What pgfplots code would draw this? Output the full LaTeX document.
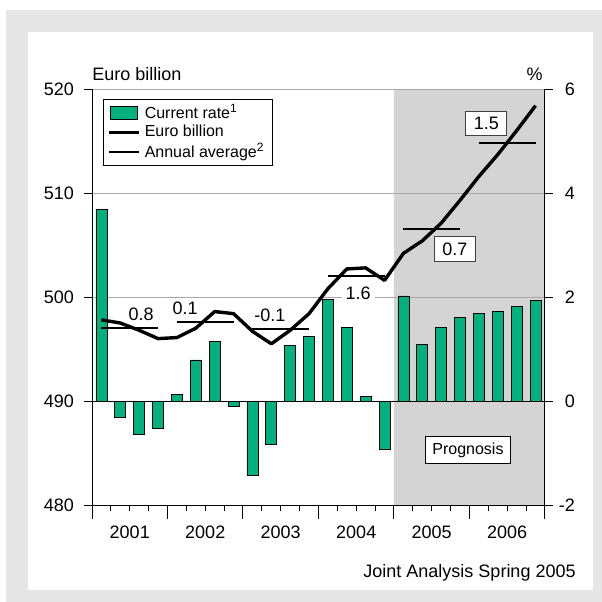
\documentclass[border=0pt]{standalone}
\usepackage{fontspec}
\setmainfont{Liberation Sans}
\usepackage{pgfplots}
\usepackage{pgfplotstable}
\pgfplotsset{compat=1.18}

\definecolor{barGreen}{HTML}{00B07E}
\definecolor{shade}{HTML}{D4D4D4}
\definecolor{frame}{HTML}{E6E6E6}
\definecolor{gridgray}{HTML}{A8A8A8}

% quarterly current rate, % (right axis)
\pgfplotstableread{
q rate
1 3.69
2 -0.31
3 -0.64
4 -0.53
5 0.13
6 0.79
7 1.14
8 -0.10
9 -1.44
10 -0.83
11 1.07
12 1.25
13 1.96
14 1.42
15 0.09
16 -0.93
17 2.02
18 1.08
19 1.41
20 1.61
21 1.69
22 1.73
23 1.81
24 1.93
}\ratetable

% Euro billion (left axis)
\pgfplotstableread{
q euro
1 497.8
2 497.5
3 496.8
4 496.0
5 496.1
6 497.0
7 498.6
8 498.4
9 496.7
10 495.5
11 496.8
12 498.4
13 500.8
14 502.7
15 502.8
16 501.6
17 504.2
18 505.4
19 507.1
20 509.3
21 511.6
22 513.7
23 516.0
24 518.4
}\eurotable

\pgfplotsset{
  chart/.style={
    at={(46pt,48.5pt)}, anchor=south west,
    scale only axis, width=226.5pt, height=208pt,
    xmin=0.5, xmax=24.5,
    tick align=outside,
    tick style={black, line width=0.5pt},
    axis line style={black, line width=0.5pt},
    ticklabel style={font=\fontsize{9}{10}\selectfont},
    /pgf/number format/assume math mode=true,
  },
}
\newcommand{\lab}{\fontsize{9}{10}\selectfont}

\begin{document}
\begin{tikzpicture}
\fill[white] (0,0) rectangle (301pt,301pt);
\fill[frame] (3pt,0) rectangle (301pt,296pt);
\fill[white] (14pt,6pt) rectangle (296.5pt,285pt);

% prognosis shading
\begin{axis}[chart, hide axis, ymin=-2, ymax=6]
\addplot[draw=none, fill=shade] coordinates {(16.5,-2) (16.5,6) (24.5,6) (24.5,-2)} -- cycle;
\end{axis}

% bars, right axis
\begin{axis}[chart,
  ymin=-2, ymax=6, ytick={-2,0,...,6},
  axis y line*=right, axis x line=none,
  major tick length=4pt,
  ymajorgrids, grid style={gridgray, line width=0.5pt},
  yticklabel style={anchor=east, xshift=14.5pt},
]
\draw[black, line width=0.5pt] (axis cs:0.5,0) -- (axis cs:24.5,0);
\addplot[ybar, bar width=0.58, fill=barGreen, draw=black, line width=0.4pt]
  table[x=q, y=rate] {\ratetable};
\end{axis}

% x axis with quarter and year ticks
\begin{axis}[chart,
  ymin=-2, ymax=6,
  axis y line=none, axis x line*=bottom,
  xtick={0.5,4.5,...,24.5},
  xticklabels={2001,2002,2003,2004,2005,2006,{}},
  xticklabel style={xshift=18.875pt},
  minor xtick={0.5,1.5,...,24.5},
  major tick length=7pt, minor tick length=3pt,
]
\addplot[draw=none, forget plot] table[x=q, y=rate] {\ratetable};
\end{axis}

% euro line, left axis
\begin{axis}[chart, clip=false,
  ymin=480, ymax=520, ytick={480,490,...,520},
  axis y line*=left, axis x line=none,
  major tick length=4pt,
  yticklabel style={xshift=-1.5pt},
  legend style={at={(0.024,0.976)}, anchor=north west, draw=black, line width=0.5pt,
    font=\fontsize{8}{9}\selectfont, inner xsep=2pt, inner ysep=1.5pt,
    nodes={inner ysep=0.95pt}},
  legend cell align=left,
  legend image code/.code={\draw[#1] (0pt,0pt) -- (15pt,0pt);},
]
\addlegendimage{legend image code/.code={\draw[fill=barGreen, draw=black, line width=0.4pt] (0.5pt,-3.4pt) rectangle (14pt,3.4pt);}}
\addlegendentry{Current rate\textsuperscript{1}}
\addplot[black, line width=1.7pt, line join=round] table[x=q, y=euro] {\eurotable};
\addlegendentry{Euro billion}
\addplot[black, line width=1pt] coordinates {(1,497.0) (4,497.0)};
\addlegendentry{Annual average\textsuperscript{2}}
\addplot[black, line width=1pt, forget plot] coordinates {(5,497.6) (8,497.6)};
\addplot[black, line width=1pt, forget plot] coordinates {(9,496.9) (12,496.9)};
\addplot[black, line width=1pt, forget plot] coordinates {(13,502.0) (16,502.0)};
\addplot[black, line width=1pt, forget plot] coordinates {(17,506.5) (20,506.5)};
\addplot[black, line width=1pt, forget plot] coordinates {(21,514.8) (24,514.8)};

\node[font=\lab] at (axis cs:3.1,498.3) {0.8};
\node[font=\lab] at (axis cs:5.43,498.9) {0.1};
\node[font=\lab] at (axis cs:9.93,498.2) {-0.1};
\node[font=\lab, fill=white, inner xsep=2pt, inner ysep=0.5pt] at (axis cs:14.6,500.4) {1.6};
\node[font=\lab, draw=black!75, fill=white, line width=0.5pt, inner xsep=4pt, inner ysep=3pt] at (axis cs:19.73,504.6) {0.7};
\node[font=\lab, draw=black!75, fill=white, line width=0.5pt, inner xsep=4pt, inner ysep=3pt] at (axis cs:21.4,516.7) {1.5};
\node[font=\fontsize{8}{9}\selectfont, draw=black, fill=white, line width=0.5pt, inner xsep=3.3pt, inner ysep=3pt] at (axis cs:20.42,485.3) {Prognosis};

\node[font=\lab, inner sep=0pt, anchor=base west, yshift=4.2pt] at (rel axis cs:0,1) {Euro billion};
\node[font=\lab, inner sep=0pt, anchor=base east, yshift=4.2pt, xshift=-1pt] at (rel axis cs:1,1) {\%};
\end{axis}

\node[font=\lab, inner sep=0pt, anchor=base east] at (288pt,12.2pt) {Joint Analysis Spring 2005};
\end{tikzpicture}
\end{document}
